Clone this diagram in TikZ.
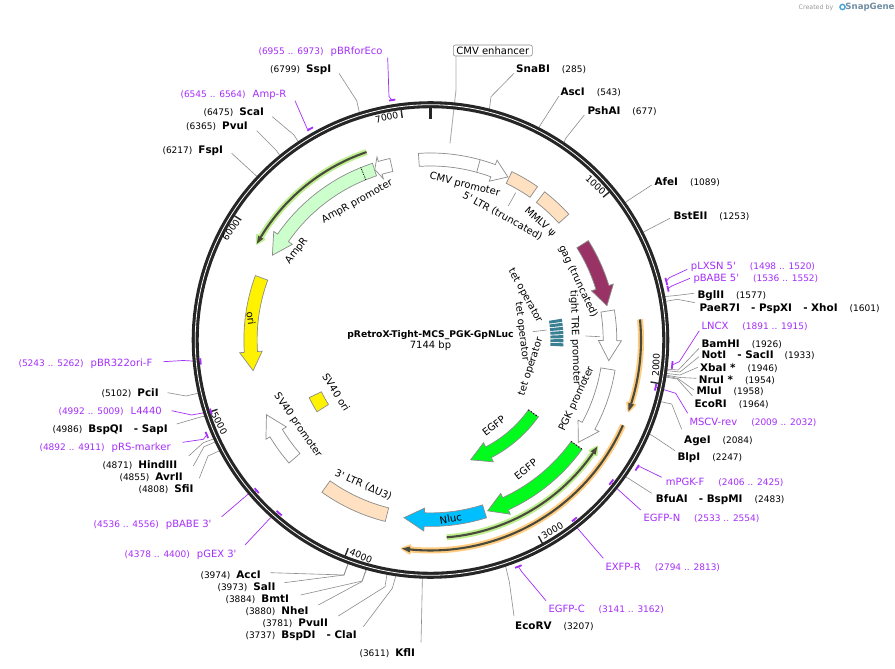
\documentclass[tikz,border=0pt]{standalone}
\usepackage{fontspec}
\setmainfont{DejaVu Sans}[Ligatures=TeXOff]
\definecolor{pc}{HTML}{A52EFA}
\definecolor{lg}{HTML}{8C8C8C}
\definecolor{ringc}{HTML}{262626}
\definecolor{peach}{HTML}{FFE0C0}
\definecolor{amp}{HTML}{CCFFCC}
\definecolor{gfp}{HTML}{00FB1C}
\definecolor{nluc}{HTML}{00BFFF}
\definecolor{gagc}{HTML}{993366}
\definecolor{hlg}{HTML}{BDEE90}
\definecolor{hlo}{HTML}{FFCC80}
\definecolor{hld}{HTML}{4A4A3C}
\definecolor{tetc}{HTML}{3B7F92}
\definecolor{sgtext}{HTML}{6F8EA3}
\definecolor{sgicon}{HTML}{45A5D8}
\newcommand\enzf{\fontsize{10.4}{12}\selectfont\bfseries}
\newcommand\numf{\fontsize{9}{12}\selectfont}
\newcommand\labf{\fontsize{10}{12}\selectfont}
\newcommand\ezn[1]{{\enzf #1}}
\newcommand\nmb[1]{{\numf #1}}
\newcommand\siteL[2]{\nmb{#1}\hspace{6pt}\ezn{#2}}
\newcommand\siteR[2]{\ezn{#1}\hspace{12pt}\nmb{#2}}
\newcommand\primL[2]{{\numf\color{pc}#1}\hspace{7pt}{\labf\color{pc}#2}}
\newcommand\primR[2]{{\labf\color{pc}#1}\hspace{14pt}{\numf\color{pc}#2}}
\tikzset{
  lab/.style={anchor=west,inner sep=0pt,text height=7.5pt,text depth=0pt,text=black},
  flab/.style={inner sep=0pt,font=\labf,text=black},
  leader/.style={draw=lg,line width=0.6pt},
  pline/.style={draw=pc,line width=0.7pt},
  pmk/.style={draw=pc,line width=1.8pt},
  feat/.style={draw=lg,line width=0.7pt,line join=miter},
  tick/.style={draw=ringc,line width=1.4pt},
  ticklab/.style={inner sep=0pt,font=\fontsize{9.2}{11}\selectfont,text=black},
}
% site: id, label pos, text, start, elbow, bp
\newcommand\site[6]{%
  \node[lab] (#1) at (#2) {#3};
  \coordinate (#1s) at (#4);
  \coordinate (#1e) at (#5);
  \pgfmathsetmacro\ang{#6/7144*360-90}
  \coordinate (#1r) at ([shift={(430.5,340)}]\ang:237);
  \draw[leader] (#1s) -- (#1e) -- (#1r);
}
% primer: id, label pos, text, start, elbow, bp1, bp2, r
\newcommand\primer[8]{%
  \node[lab] (#1) at (#2) {#3};
  \coordinate (#1s) at (#4);
  \coordinate (#1e) at (#5);
  \pgfmathsetmacro\ang{(#6+#7)/2/7144*360-90}
  \coordinate (#1r) at ([shift={(430.5,340)}]\ang:#8);
  \draw[pline] (#1s) -- (#1e) -- (#1r);
}
\newcommand\pmark[3]{%
  \pgfmathsetmacro\anga{#1/7144*360-90-0.3}
  \pgfmathsetmacro\angb{#2/7144*360-90+0.3}
  \draw[pmk,shift={(430.5,340)}] plot[domain=\anga:\angb,samples=6] (\x:#3);
}
% feature arrow: inner r, outer r, tail angle, barb angle, tip angle, fill
\newcommand\featarrow[6]{%
  \pgfmathsetmacro\rmid{(#1+#2)/2}
  \pgfmathsetmacro\rin{#1-4.7}
  \pgfmathsetmacro\rout{#2+4.7}
  \draw[feat,fill=#6] plot[domain=#3:#4,samples=30] (\x:#2) -- (#4:\rout) -- (#5:\rmid) -- (#4:\rin) -- plot[domain=#4:#3,samples=30] (\x:#1) -- cycle;
}
\newcommand\featbox[5]{%
  \draw[feat,fill=#5] plot[domain=#3:#4,samples=20] (\x:#2) -- plot[domain=#4:#3,samples=20] (\x:#1) -- cycle;
}
% highlighted arc: r, start, body end, tip, glow colour
\newcommand\hlarc[5]{%
  \pgfmathsetmacro\ro{#1+4.2}
  \pgfmathsetmacro\ri{#1-4.2}
  \pgfmathsetmacro\rop{#1+3}
  \pgfmathsetmacro\rip{#1-3}
  \draw[#5,line width=6pt] plot[domain=#2:#3,samples=40] (\x:#1);
  \fill[#5,draw=#5,line width=2pt,line join=round] (#3:\ro) -- (#4:#1) -- (#3:\ri) -- cycle;
  \draw[hld,line width=2.1pt] plot[domain=#2:#3,samples=40] (\x:#1);
  \fill[hld] (#3:\rop) -- (#4:#1) -- (#3:\rip) -- cycle;
}
\newcommand\flabel[5]{\node[flab,rotate=#4] (#1) at (#2,#3) {#5};}
\begin{document}
\begin{tikzpicture}[x=1pt,y=-1pt]
\useasboundingbox (0,0) rectangle (895,669);
\fill[white] (0,0) rectangle (895,669);

% --- restriction sites, left and top
\site{ssp}{270,68.7}{\siteL{(6799)}{SspI}}{339,73.3}{356.7,100.7}{6799}
\site{sca}{203.3,111.7}{\siteL{(6475)}{ScaI}}{272.3,116.7}{294,135}{6475}
\site{pvui}{186,126}{\siteL{(6365)}{PvuI}}{256.7,130.7}{276,150}{6365}
\site{fsp}{162.3,150}{\siteL{(6217)}{FspI}}{231.7,153.3}{254.3,174}{6217}
\site{sna}{516,68.3}{\siteR{SnaBI}{(285)}}{514,73.3}{491,96.7}{285}
\site{asc}{560.3,91.7}{\siteR{AscI}{(543)}}{559,96}{539.3,126.7}{543}
\site{psh}{587.3,110.3}{\siteR{PshAI}{(677)}}{584.3,115}{565.7,138.3}{677}
\site{afe}{654.3,181.3}{\siteR{AfeI}{(1089)}}{651.7,185}{627.7,200.7}{1089}
\site{bst}{673.3,216}{\siteR{BstEII}{(1253)}}{670,218.3}{646,230.7}{1253}
\site{bgl}{697.3,295}{\siteR{BglII}{(1577)}}{694,293.3}{676,295.5}{1577}
\site{pae}{699.3,307.3}{\ezn{PaeR7I}\hspace{8pt} \ezn{- PspXI}\hspace{8pt} \ezn{- XhoI}\hspace{12pt}\nmb{(1601)}}{695,302.7}{677.3,299.3}{1601}
\site{bam}{701.3,343.3}{\siteR{BamHI}{(1926)}}{699,348.3}{678.3,370}{1926}
\site{not}{701.3,355}{\ezn{NotI}\hspace{8pt} \ezn{- SacII}\hspace{11pt}\nmb{(1933)}}{699,356.7}{680,372}{1933}
\site{xba}{700,367.3}{\siteR{XbaI *}{(1946)}}{697.7,367.3}{680,375}{1946}
\site{nru}{698.7,379.7}{\siteR{NruI *}{(1954)}}{696.3,378.3}{680,377.5}{1954}
\site{mlu}{696.3,391}{\siteR{MluI}{(1958)}}{694,390}{678,378.5}{1958}
\site{eco}{694.3,403.3}{\siteR{EcoRI}{(1964)}}{692.3,395.7}{677.3,379}{1964}
\site{age}{684,439.3}{\siteR{AgeI}{(2084)}}{681.7,429.3}{671.7,404}{2084}
\site{blp}{677.3,457}{\siteR{BlpI}{(2247)}}{675,450.7}{653,436}{2247}
\site{bfu}{655.7,499}{\ezn{BfuAI}\hspace{8pt} \ezn{- BspMI}\hspace{12pt}\nmb{(2483)}}{651.7,493.3}{628.3,478.3}{2483}
\site{ecv}{515,626}{\siteR{EcoRV}{(3207)}}{514,616}{509.3,581.7}{3207}
\site{kfl}{359.3,652.3}{\siteL{(3611)}{KflI}}{421,642.3}{421.7,613.3}{3611}
\site{bsd}{245.3,634.3}{\nmb{(3737)}\hspace{6pt}\ezn{BspDI}\hspace{8pt} \ezn{- ClaI}}{363.3,626.7}{392.3,588.3}{3737}
\site{pv2}{262.3,622.3}{\siteL{(3781)}{PvuII}}{338.3,616}{385,586.7}{3781}
\site{nhe}{245.3,610.3}{\siteL{(3880)}{NheI}}{318.3,605}{361.7,581.7}{3880}
\site{bmt}{225.3,598.3}{\siteL{(3884)}{BmtI}}{300.7,595}{362.3,581}{3884}
\site{sal}{217.3,586.3}{\siteL{(3973)}{SalI}}{284.3,582.7}{344,575}{3973}
\site{acc}{200.3,574.7}{\siteL{(3974)}{AccI}}{270.7,572.7}{344,575}{3974}
\site{pci}{101.3,392.7}{\siteL{(5102)}{PciI}}{167.7,392.7}{186,396}{5102}
\site{bsq}{52.3,428.3}{\nmb{(4986)}\hspace{6pt}\ezn{BspQI}\hspace{8pt} \ezn{- SapI}}{176.7,424}{201.7,416.7}{4986}
\site{hin}{102.3,464.3}{\siteL{(4871)}{HindIII}}{188.7,456}{203.3,442.7}{4871}
\site{avr}{119.3,476.7}{\siteL{(4855)}{AvrII}}{193.3,466}{204,446.7}{4855}
\site{sfi}{138.3,488.3}{\siteL{(4808)}{SfiI}}{199.3,478.3}{208,456}{4808}

% --- primers
\primer{pbr}{258.3,50.7}{\primL{(6955 .. 6973)}{pBRforEco}}{387.7,57.7}{389,96.7}{6955}{6973}{243}
\primer{apr}{180.3,93.6}{\primL{(6545 .. 6564)}{Amp-R}}{295,100.7}{307.3,129}{6545}{6564}{243}
\primer{plx}{690.7,265.5}{\primR{pLXSN 5'}{(1498 .. 1520)}}{687.3,269.3}{669.3,277.7}{1498}{1520}{243}
\primer{pba}{693.3,277.5}{\primR{pBABE 5'}{(1536 .. 1552)}}{690,278.3}{671.7,286}{1536}{1552}{243}
\primer{lnc}{701.3,325.3}{\primR{LNCX}{(1891 .. 1915)}}{699.3,330.7}{679.3,361.7}{1891}{1915}{243}
\primer{msc}{689.3,421.3}{\primR{MSCV-rev}{(2009 .. 2032)}}{687.7,413.3}{675.7,393.3}{2009}{2032}{230}
\primer{mpg}{665.7,481.3}{\primR{mPGK-F}{(2406 .. 2425)}}{661.7,477.3}{640,466.7}{2406}{2425}{243}
\primer{egn}{643.3,517.5}{\primR{EGFP-N}{(2533 .. 2554)}}{640.7,510}{616.7,488.3}{2533}{2554}{230}
\primer{exf}{605.3,566.3}{\primR{EXFP-R}{(2794 .. 2813)}}{603.3,558.3}{576.7,527.3}{2794}{2813}{230}
\primer{egc}{548.3,608.5}{\primR{EGFP-C}{(3141 .. 3162)}}{546,600.7}{521.7,571.7}{3141}{3162}{243}
\primer{pgx}{124.5,553.7}{\primL{(4378 .. 4400)}{pGEX 3'}}{245,545}{270,518.3}{4378}{4400}{230}
\primer{pb3}{93.5,523.4}{\primL{(4536 .. 4556)}{pBABE 3'}}{221.7,516.7}{248.3,494}{4536}{4556}{230}
\primer{prs}{39.3,446.5}{\primL{(4892 .. 4911)}{pRS-marker}}{182.7,442.3}{203.3,439.3}{4892}{4911}{243}
\primer{l44}{58.3,410.3}{\primL{(4992 .. 5009)}{L4440}}{171.7,410.7}{191.7,415}{4992}{5009}{231}
\primer{p32}{18.3,363.2}{\primL{(5243 .. 5262)}{pBR322ori-F}}{163.3,361.7}{183,360.5}{5243}{5262}{231}

% --- CMV enhancer box and short feature leaders
\node[draw=lg,rounded corners=2pt,line width=0.6pt,fill=white,inner sep=0pt,minimum width=79pt,minimum height=11pt,font=\labf] (cmve) at (492.8,50.5) {CMV enhancer};
\coordinate (cmvs) at (456,56);
\coordinate (cmvk) at (456,90);
\coordinate (cmvt) at (450,143.3);
\draw[draw=lg!70,line width=0.9pt] (cmvs) -- (cmvk) -- (cmvt);

% --- backbone
\begin{scope}[shift={(430.5,340)}]
  \draw[ringc,line width=7pt] plot[domain=0:360,samples=181] (\x:235.3) -- cycle;
  \draw[white,line width=0.8pt] plot[domain=0:360,samples=181] (\x:235.3) -- cycle;
  \draw[ringc,line width=3.2pt] (-90:232) -- (-90:221.5);
  \foreach \k in {1,...,7} {
    \pgfmathsetmacro\tka{\k*1000/7144*360-90}
    \draw[tick] (\tka:232) -- (\tka:224);
  }
\end{scope}
\pmark{6955}{6973}{243}
\pmark{6545}{6564}{243}
\pmark{1498}{1520}{243}
\pmark{1536}{1552}{243}
\pmark{1891}{1915}{243}
\pmark{2009}{2032}{230}
\pmark{2406}{2425}{243}
\pmark{2533}{2554}{230}
\pmark{2794}{2813}{230}
\pmark{3141}{3162}{243}
\pmark{4378}{4400}{230}
\pmark{4536}{4556}{230}
\pmark{4892}{4911}{243}
\pmark{4992}{5009}{231}
\pmark{5243}{5262}{231}

\node[ticklab,rotate=13] (t7) at (386.7,117.3) {7000};
\node[ticklab,rotate=55] (t6) at (231,230) {6000};
\node[ticklab,rotate=-43] (t1) at (595.7,185) {1000};
\node[ticklab,rotate=88] (t2) at (656,365) {2000};
\node[ticklab,rotate=30] (t3) at (552.3,531) {3000};
\node[ticklab,rotate=-22] (t4) at (361,556) {4000};
\node[ticklab,rotate=-62] (t5) at (219.3,423.3) {5000};

% --- features
\begin{scope}[shift={(430.5,340)}]
  \hlarc{198.5}{251.2}{211.2}{209}{hlg}
  \hlarc{198}{85.3}{34.8}{32.6}{hlg}
  \hlarc{210.5}{-5.6}{17.6}{19.8}{hlo}
  \hlarc{210.5}{23.9}{95.6}{97.8}{hlo}

  \featarrow{174}{187}{-93.7}{-69.7}{-64.6}{white}
  \draw[feat] (-74.6:174) -- (-74.6:187);
  \featbox{174}{187}{-64.2}{-55.1}{peach}
  \featbox{173.6}{187}{-52.4}{-42.3}{peach}
  \featarrow{173}{186.5}{-32.2}{-17}{-11}{gagc}
  \featarrow{172.7}{186.3}{-9.3}{0.2}{6.6}{white}
  \featarrow{172.6}{187}{9.3}{28.5}{34.7}{white}
  \featarrow{173.4}{186.9}{35.8}{65.4}{71.5}{gfp}
  \draw[black,line width=1pt,dotted] (35.8:173.4) -- (35.8:186.9);
  \featarrow{120.3}{132.4}{35.5}{62.7}{71.5}{gfp}
  \draw[black,line width=1pt,dotted] (35.5:120.3) -- (35.5:132.4);
  \featarrow{172.9}{186.4}{72.5}{92}{98.5}{nluc}
  \featbox{173}{187}{104}{125.5}{peach}
  \featarrow{173}{187.5}{139}{148.9}{155.5}{white}
  \featbox{120.7}{134.3}{147.7}{154.6}{yellow}
  \featarrow{173.4}{186.6}{200.2}{176.2}{170.2}{yellow}
  \featarrow{172.8}{186}{251.8}{214.7}{208.2}{amp}
  \draw[black,line width=0.8pt,densely dotted] (248:172.8) -- (248:186);
  \featarrow{172.7}{186}{257.4}{253.7}{251.9}{white}
  \foreach \n in {0,...,6} {
    \pgfmathsetmacro\tea{-9.2+\n*1.77}
    \pgfmathsetmacro\teb{\tea+1.35}
    \fill[tetc] plot[domain=\tea:\teb,samples=4] (\x:133) -- plot[domain=\teb:\tea,samples=4] (\x:120);
  }
\end{scope}

% --- short leaders of feature labels
\coordinate (ltra) at (515.7,192.7);
\coordinate (ltrb) at (508.3,206);
\draw[leader] (ltra) -- (ltrb);
\coordinate (trea) at (585.7,336);
\coordinate (treb) at (600,336.7);
\draw[leader] (trea) -- (treb);
\coordinate (teta) at (532.7,331.7);
\coordinate (tetb) at (546.7,330);
\draw[leader] (teta) -- (tetb);

% --- feature labels
\flabel{lcmv}{464.7}{185}{-14}{CMV promoter}
\flabel{lltr}{502.5}{216}{-29}{5' LTR (truncated)}
\flabel{lmm}{540}{222.3}{-42}{MMLV ψ}
\flabel{lgag}{578}{281.5}{-65}{gag (truncated)}
\flabel{ltre}{575}{338}{-88}{tight TRE promoter}
\flabel{ltt1}{525}{296}{-61}{tet operator}
\flabel{ltt2}{521.7}{331.7}{-83}{tet operator}
\flabel{ltt3}{531}{366.7}{72}{tet operator}
\flabel{lpgk}{576.7}{399}{65}{PGK promoter}
\flabel{leg1}{493.7}{426}{38}{EGFP}
\flabel{leg2}{525.7}{469.3}{38}{EGFP}
\flabel{lnl}{450.7}{518.7}{10}{Nluc}
\flabel{l3l}{363.3}{485}{-24}{3' LTR (ΔU3)}
\flabel{lsvp}{297.7}{425.3}{-55}{SV40 promoter}
\flabel{lsvo}{336.3}{392.3}{-58}{SV40 ori}
\flabel{lori}{251}{318}{-82}{ori}
\flabel{lapp}{357.3}{201.7}{29}{AmpR promoter}
\flabel{lamp}{296.7}{250.7}{52}{AmpR}

% --- centre
\node[inner sep=0pt,font=\fontsize{9.2}{11}\selectfont\bfseries] (title) at (430.5,335.5) {pRetroX-Tight-MCS\_PGK-GpNLuc};
\node[inner sep=0pt,font=\labf] (size) at (430.5,346) {7144 bp};

% --- credit
\node[inner sep=0pt,font=\fontsize{6.3}{8}\selectfont,text=black!40] (crd) at (816,8) {Created by};
\node[inner sep=0pt,font=\fontsize{8.6}{10}\selectfont\bfseries,text=sgtext] (sng) at (870,7.5) {SnapGene};
\draw[sgicon,line width=1.4pt] (842.5,7) circle[radius=2.6];
\end{tikzpicture}
\end{document}
